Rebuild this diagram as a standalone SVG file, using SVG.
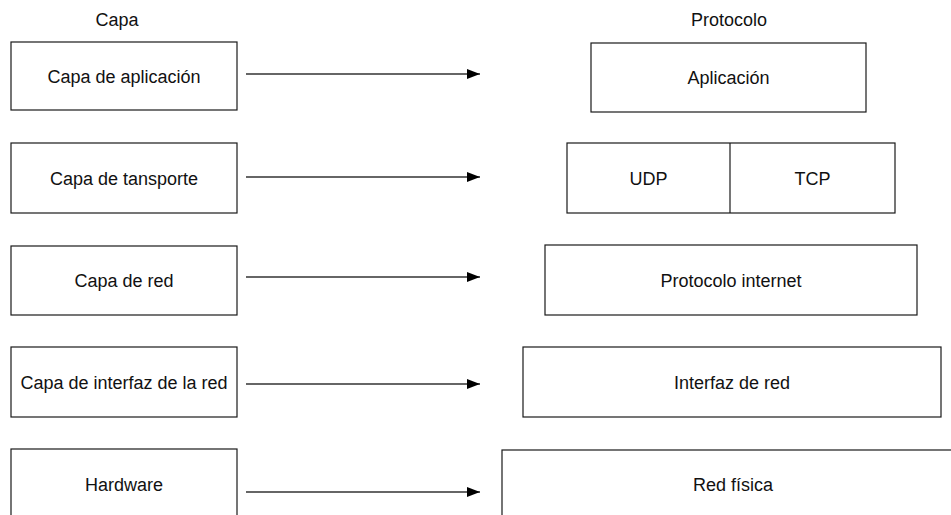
<svg xmlns="http://www.w3.org/2000/svg" width="951" height="515" viewBox="0 0 951 515">
  <style>
    .box { fill: #ffffff; stroke: #1a1a1a; stroke-width: 1.2; }
    .lbl { font-family: "Liberation Sans", Arial, sans-serif; font-size: 18px; fill: #111111; text-anchor: middle; }
    .conn { stroke: #333333; stroke-width: 1.3; fill: none; marker-end: url(#arrow); }
  </style>
  <defs>
    <marker id="arrow" viewBox="0 0 13 10" refX="13" refY="5" markerWidth="13" markerHeight="10" markerUnits="userSpaceOnUse" orient="auto">
      <path d="M0,0 L13,5 L0,10 Z" fill="#000000"/>
    </marker>
  </defs>
  <rect width="951" height="515" fill="#ffffff"/>

  <!-- column headings -->
  <text class="lbl" x="117" y="26">Capa</text>
  <text class="lbl" x="729" y="26">Protocolo</text>

  <!-- layers -->
  <g id="capa-aplicacion">
    <rect class="box" x="11" y="42" width="226" height="68"/>
    <text class="lbl" x="124" y="82.5">Capa de aplicación</text>
  </g>
  <g id="capa-transporte">
    <rect class="box" x="11" y="143" width="226" height="70"/>
    <text class="lbl" x="124" y="184.5">Capa de tansporte</text>
  </g>
  <g id="capa-red">
    <rect class="box" x="11" y="246" width="226" height="69"/>
    <text class="lbl" x="124" y="287">Capa de red</text>
  </g>
  <g id="capa-interfaz">
    <rect class="box" x="11" y="347" width="226" height="70"/>
    <text class="lbl" x="124" y="388.5">Capa de interfaz de la red</text>
  </g>
  <g id="hardware">
    <rect class="box" x="11" y="449" width="226" height="80"/>
    <text class="lbl" x="124" y="491">Hardware</text>
  </g>

  <!-- protocols -->
  <g id="aplicacion">
    <rect class="box" x="591" y="43" width="275" height="69"/>
    <text class="lbl" x="728.5" y="83.5">Aplicación</text>
  </g>
  <g id="udp-tcp">
    <rect class="box" x="567" y="143" width="328" height="70"/>
    <line x1="730" y1="143" x2="730" y2="213" stroke="#1a1a1a" stroke-width="1.2"/>
    <text class="lbl" x="648.5" y="184.5">UDP</text>
    <text class="lbl" x="812.5" y="184.5">TCP</text>
  </g>
  <g id="protocolo-internet">
    <rect class="box" x="545" y="245" width="372" height="70"/>
    <text class="lbl" x="731" y="286.5">Protocolo internet</text>
  </g>
  <g id="interfaz-red">
    <rect class="box" x="523" y="347" width="418" height="70"/>
    <text class="lbl" x="732" y="388.5">Interfaz de red</text>
  </g>
  <g id="red-fisica">
    <rect class="box" x="502" y="450" width="462" height="80"/>
    <text class="lbl" x="733" y="491">Red física</text>
  </g>

  <!-- connectors -->
  <g id="connectors">
    <line class="conn" x1="246" y1="74" x2="480" y2="74"/>
    <line class="conn" x1="246" y1="177" x2="480" y2="177"/>
    <line class="conn" x1="246" y1="277" x2="480" y2="277"/>
    <line class="conn" x1="246" y1="384" x2="480" y2="384"/>
    <line class="conn" x1="246" y1="492" x2="480" y2="492"/>
  </g>
</svg>
